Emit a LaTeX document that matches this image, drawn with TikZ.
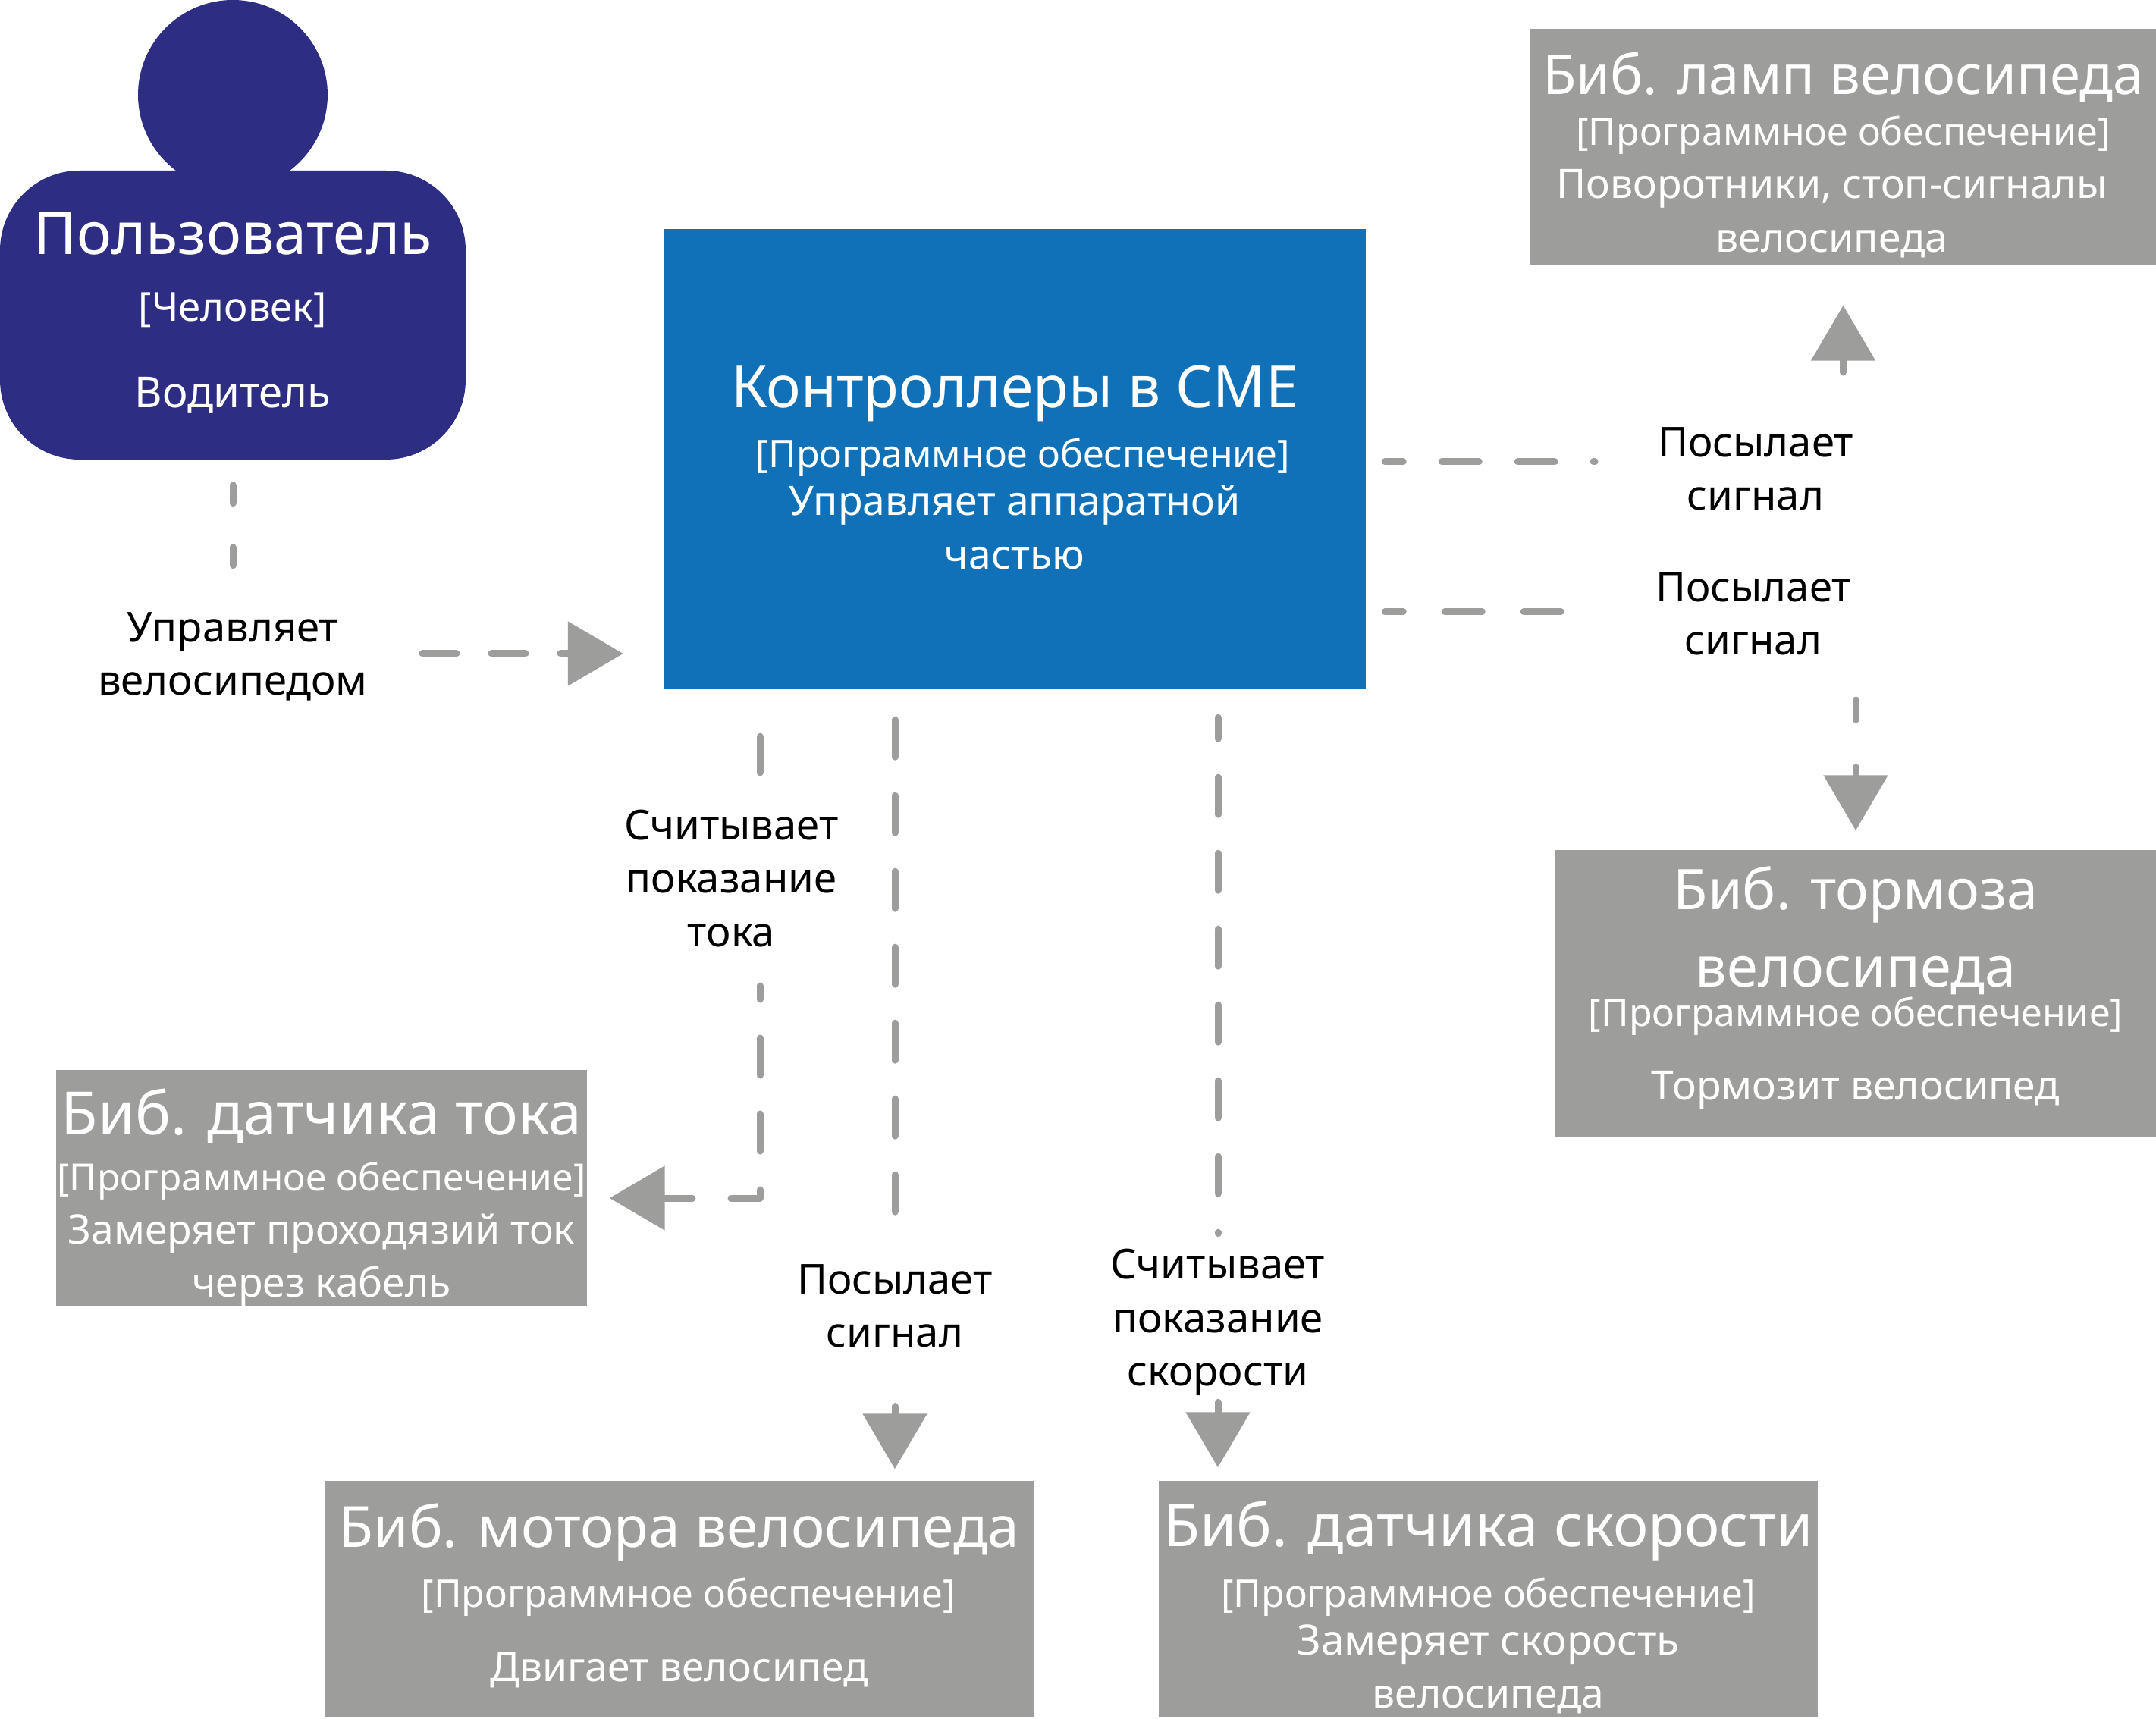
\documentclass[tikz,border=0pt]{standalone}
\usepackage{fontspec}
\setmainfont{Noto Sans}
\usetikzlibrary{arrows.meta}

\definecolor{navyfill}{HTML}{2D2E83}
\definecolor{bluefill}{HTML}{1071B8}
\definecolor{greyfill}{HTML}{9D9D9C}

\lineskiplimit=-50pt
\newcommand{\ttl}[2][21]{{\fontsize{#1}{14}\selectfont #2}}
\newcommand{\dsc}[2][15.2]{{\fontsize{#1}{14}\selectfont #2}}
\newcommand{\pad}[1]{\mbox{}\\[#1]}

\tikzset{
  boxbase/.style={inner sep=0pt,text=white,align=center,
    font=\fontsize{14.25}{14}\selectfont},
  sysbox/.style={boxbase,fill=greyfill},
  flowlabel/.style={inner sep=0pt,align=center,
    font=\fontsize{15.5}{20}\selectfont},
  flowplain/.style={draw=greyfill,line width=.09cm,line cap=round,line join=round,
    dash pattern=on .49cm off .51cm},
  flow/.style={flowplain,
    -{Triangle[length=.73cm,width=.83cm,fill=greyfill,sep=0pt]}},
}

\begin{document}
\begin{tikzpicture}[y=-1cm]
\useasboundingbox (0,0) rectangle (28.43,22.67);

% user
  \node[circle,fill=navyfill,minimum size=2.5cm,inner sep=0pt] (userHead) at (3.07,1.25) {};
  \node[boxbase,fill=navyfill,rounded corners=1.05cm,minimum width=6.14cm,minimum height=3.81cm] (user) at (3.07,4.155)
    {\ttl[22]{Пользователь}\\[11pt]\dsc[15]{[Человек]}\\[18.5pt]\dsc[16]{Водитель}\\[-10.5pt]\mbox{}};

% software boxes
  \node[boxbase,fill=bluefill,minimum width=9.25cm,minimum height=6.06cm] (ctrl) at (13.38,6.055)
    {\pad{8pt}\ttl[21.8]{Контроллеры в СМЕ}\\[8.5pt]\hspace*{6.2pt}{[Программное обеспечение]}\\[4pt]\dsc{Управляет аппаратной}\\[6pt]\dsc{частью}};
  \node[sysbox,minimum width=8.25cm,minimum height=3.12cm] (lamp) at (24.305,1.94)
    {\pad{7.8pt}\ttl[20.6]{Биб. ламп велосипеда}\\[5pt]{[Программное обеспечение]}\\[6pt]\dsc{Поворотники, стоп-сигналы}\hspace*{8.5pt}\mbox{}\\[6pt]\dsc{велосипеда}\hspace*{8.5pt}};
  \node[sysbox,minimum width=7.92cm,minimum height=3.79cm] (brake) at (24.47,13.105)
    {\ttl{Биб. тормоза}\\[15pt]\ttl{велосипеда}\\[1pt]{[Программное обеспечение]}\\[13.5pt]\dsc{Тормозит велосипед}\\[-6pt]\mbox{}};
  \node[sysbox,minimum width=7cm,minimum height=3.11cm] (sensor) at (4.24,15.665)
    {\pad{7.2pt}\ttl[22.4]{Биб. датчика тока}\\[7pt]\dsc[14.1]{[Программное обеспечение]}\\[6pt]\dsc{Замеряет проходязий ток}\\[6pt]\smash{\dsc{через кабель}}};
  \node[sysbox,minimum width=9.35cm,minimum height=3.12cm] (motor) at (8.955,21.09)
    {\ttl[21.3]{Биб. мотора велосипеда}\\[8.5pt]\hspace*{7pt}{[Программное обеспечение]}\\[14pt]\dsc{Двигает велосипед}\\[-9pt]\mbox{}};
  \node[sysbox,minimum width=8.69cm,minimum height=3.12cm] (speed) at (19.625,21.09)
    {\pad{7.2pt}\ttl[22.2]{Биб. датчика скорости}\\[8.5pt]{[Программное обеспечение]}\\[4pt]\dsc[15.6]{Замеряет скорость}\\[6pt]\smash{\dsc{велосипеда}}};

% labels
  \node[flowlabel] (lblDrive) at (3.07,8.66) {Управляет\\велосипедом};
  \node[flowlabel] (lblLamp) at (23.15,6.18) {Посылает\\сигнал};
  \node[flowlabel] (lblBrake) at (23.12,8.09) {Посылает\\сигнал};
  \node[flowlabel] (lblCurrent) at (9.645,11.585) {Считывает\\показание\\тока};
  \node[flowlabel] (lblMotor) at (11.80,17.22) {Посылает\\сигнал};
  \node[flowlabel] (lblSpeed) at (16.06,17.44) {Считывает\\показание\\скорости};

% free ends
  \coordinate (driveFrom) at (5.57,8.62);
  \coordinate (lampFrom) at (24.305,4.91);
  \coordinate (lampTo) at (21.03,6.09);
  \coordinate (brakeTo) at (20.66,8.07);
  \coordinate (brakeFrom) at (24.47,9.23);
  \coordinate (currentFrom) at (10.02,13.0);
  \coordinate (currentTo) at (8.03,15.80);

% user to controllers
  \draw[flowplain,dash pattern=on .24cm off .58cm,shorten <=.33cm] (user.south) -- (3.07,7.47);
  \draw[flow,dash pattern=on .45cm off .46cm,shorten >=.53cm] (driveFrom) -- (ctrl.west |- driveFrom);

% controllers to the right
  \draw[flowplain,dash phase=.25cm,shorten <=.25cm] (ctrl.east |- lampTo) -- (lampTo);
  \draw[flow,shorten >=.52cm] (lampFrom) -- (lamp.south);
  \draw[flowplain,dash pattern=on .49cm off .55cm,dash phase=.25cm,shorten <=.25cm] (ctrl.east |- brakeTo) -- (brakeTo);
  \draw[flow,dash pattern=on .26cm off .63cm,shorten >=.25cm] (brakeFrom) -- (brake.north);

% controllers to the bottom
  \draw[flowplain,shorten <=.62cm] (ctrl.south -| currentFrom) -- (10.02,10.19);
  \draw[flow,dash phase=.31cm,shorten >=.29cm] (currentFrom) |- (currentTo -| sensor.east);
  \draw[flowplain,shorten <=.40cm,shorten >=.54cm] (ctrl.south -| lblMotor) -- (lblMotor.north);
  \draw[flow,shorten <=.77cm,shorten >=.15cm] (lblMotor.south) -- (lblMotor.south |- motor.north);
  \draw[flowplain,dash phase=.21cm,shorten <=.37cm,shorten >=.2cm] (ctrl.south -| lblSpeed) -- (lblSpeed.north);
  \draw[flow,shorten <=.08cm,shorten >=.17cm] (lblSpeed.south) -- (lblSpeed.south |- speed.north);
\end{tikzpicture}
\end{document}
